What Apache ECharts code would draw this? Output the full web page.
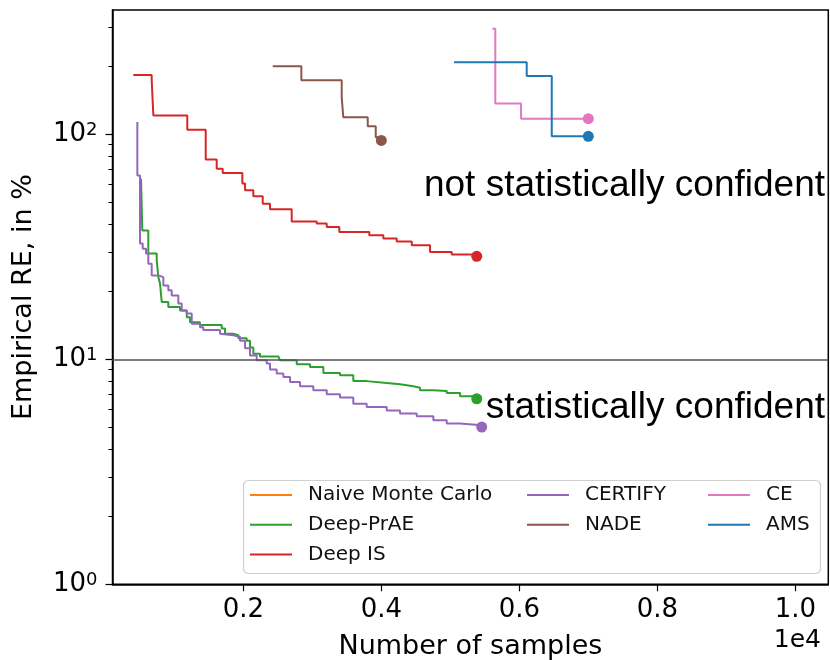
<!DOCTYPE html>
<html>
<head>
<meta charset="utf-8">
<script src="https://cdn.jsdelivr.net/npm/echarts@6/dist/echarts.min.js"></script>
<style>
  html, body { margin: 0; padding: 0; background: #fff; }
  #chart { width: 830px; height: 660px; }
</style>
</head>
<body>
<div id="chart"></div>
<script>
// ---- data (x = number of samples, y = empirical RE in %) ----
const naiveMonteCarlo = [];
const deepPrAE = [[517,63.5],[536,37.4],[623,29.5],[745,27.5],[768,23.2],[793,21.7],[817,18.0],[913,17.1],[1083,16.5],[1180,15.4],[1228,14.6],[1372,14.2],[1687,13.7],[1735,13.0],[1855,12.8],[1928,12.4],[2049,12.1],[2097,11.3],[2145,10.6],[2242,10.3],[2507,10.1],[2532,9.9],[2774,9.5],[2967,9.25],[3160,8.7],[3401,8.5],[3594,8.0],[3788,7.85],[4078,7.74],[4271,7.59],[4464,7.48],[4561,7.28],[4754,7.23],[4948,7.08],[5141,6.85],[5383,6.68]];
const deepIS = [[406,183.5],[672,174],[696,121.4],[1188,104.9],[1455,77.2],[1614,70.4],[1701,67.3],[1986,60.4],[2025,56.4],[2145,53.0],[2281,49.2],[2387,46.4],[2701,41.0],[3064,40.1],[3209,38.7],[3391,36.8],[3826,35.6],[4029,34.4],[4223,33.4],[4441,32.1],[4706,30.0],[5020,29.2],[5383,28.7]];
const certify = [[464,113.4],[464,65.7],[503,32.7],[542,31.0],[590,29.5],[623,26.6],[672,23.6],[768,23.2],[841,21.3],[913,20.3],[962,19.2],[1058,17.7],[1107,16.5],[1180,16.0],[1252,14.4],[1372,13.9],[1420,13.5],[1662,13.0],[1687,12.8],[1855,12.6],[1952,12.1],[2025,11.2],[2097,10.4],[2194,9.9],[2339,9.57],[2387,9.0],[2484,8.64],[2580,8.34],[2677,7.93],[2822,7.59],[3014,7.28],[3209,6.99],[3401,6.76],[3594,6.35],[3788,6.14],[4078,5.93],[4271,5.74],[4513,5.58],[4754,5.36],[4948,5.18],[5141,5.09],[5455,5.0]];
const nade = [[2426,201],[2841,174],[3426,146],[3449,119],[3803,108.5],[3919,97],[4000,94]];
const ce = [[5609,295],[5652,137],[6025,117.4],[7000,117.4]];
const ams = [[5054,209],[6107,181.6],[6470,98],[7000,98]];

const confidenceThreshold = 10;
const xTickValues = [2000, 4000, 6000, 8000, 10000];
const yMajorTicks = [1, 10, 100];
const yMinorTicks = [2,3,4,5,6,7,8,9,20,30,40,50,60,70,80,90,200,300];
const xRange = [104, 10478];
const yRange = [1, 357];

const FONT = 'DejaVu Sans';
const chart = echarts.init(document.getElementById('chart'), null, { renderer: 'canvas' });

function withEndMarker(pts) {
  return pts.map((p, i) => i === pts.length - 1
    ? { value: p, symbol: 'circle', symbolSize: 11 }
    : p);
}
function lineSeries(name, pts, color, extra) {
  return Object.assign({
    name: name,
    type: 'line',
    step: 'end',
    symbol: 'none',
    data: withEndMarker(pts),
    color: color,
    lineStyle: { color: color, width: 2 },
    itemStyle: { color: color },
    emphasis: { disabled: true },
    animation: false,
    z: 2
  }, extra || {});
}

const legendCommon = {
  orient: 'vertical',
  icon: 'rect',
  itemWidth: 42,
  itemHeight: 2,
  itemGap: 9.7,
  padding: 0,
  textStyle: { fontFamily: FONT, fontSize: 20, color: '#111', lineHeight: 20, padding: [0, 0, 0, 11] },
  z: 5
};

const option = {
  backgroundColor: '#fff',
  animation: false,
  grid: {
    left: 112.5, right: 1.7, top: 10, bottom: 75.7,
    show: true, borderColor: '#000', borderWidth: 1.5,
    outerBoundsMode: 'none'
  },
  xAxis: {
    type: 'value',
    min: xRange[0], max: xRange[1],
    name: 'Number of samples',
    nameLocation: 'middle',
    nameGap: 49,
    nameTextStyle: { fontFamily: FONT, fontSize: 27, color: '#000' },
    axisLine: { show: true, lineStyle: { color: '#000', width: 1.5 } },
    axisTick: { show: true, length: 7, lineStyle: { color: '#000', width: 1.2 }, customValues: xTickValues },
    axisLabel: {
      fontFamily: FONT, fontSize: 26, color: '#000', margin: 13,
      customValues: xTickValues,
      formatter: v => (v / 1e4).toFixed(1)
    },
    splitLine: { show: false }
  },
  yAxis: [{
    type: 'log',
    min: yRange[0], max: yRange[1],
    name: 'Empirical RE, in %',
    nameLocation: 'middle',
    nameGap: 75,
    nameTextStyle: { fontFamily: FONT, fontSize: 27, color: '#000' },
    axisLine: { show: true, lineStyle: { color: '#000', width: 1.5 } },
    axisTick: { show: true, length: 7, lineStyle: { color: '#000', width: 1.2 }, customValues: yMajorTicks },
    axisLabel: {
      margin: 15,
      customValues: yMajorTicks,
      formatter: v => '{b|10}{s|' + Math.round(Math.log10(v)) + '}',
      rich: {
        b: { fontFamily: FONT, fontSize: 26, color: '#000' },
        s: { fontFamily: FONT, fontSize: 18, color: '#000', verticalAlign: 'top' }
      }
    },
    splitLine: { show: false }
  }, {
    type: 'log',
    min: yRange[0], max: yRange[1],
    position: 'left',
    offset: 0,
    axisLine: { show: false },
    axisTick: { show: true, length: 4, lineStyle: { color: '#000', width: 1 }, customValues: yMinorTicks },
    axisLabel: { show: false },
    splitLine: { show: false }
  }],
  legend: [
    Object.assign({ left: 250, top: 485, data: ['Naive Monte Carlo', 'Deep-PrAE', 'Deep IS'] }, legendCommon),
    Object.assign({ left: 527, top: 485, data: ['CERTIFY', 'NADE'] }, legendCommon),
    Object.assign({ left: 708, top: 485, data: ['CE', 'AMS'] }, legendCommon)
  ],
  series: [
    lineSeries('Naive Monte Carlo', naiveMonteCarlo, '#ff7f0e'),
    lineSeries('Deep-PrAE', deepPrAE, '#2ca02c', {
      markLine: {
        silent: true, symbol: 'none', animation: false,
        label: { show: false },
        lineStyle: { color: '#555', width: 1.6, type: 'solid' },
        emphasis: { disabled: true },
        data: [{ yAxis: confidenceThreshold }]
      }
    }),
    lineSeries('Deep IS', deepIS, '#d62728'),
    lineSeries('CERTIFY', certify, '#9467bd', { z: 3 }),
    lineSeries('NADE', nade, '#8c564b'),
    lineSeries('CE', ce, '#e377c2'),
    lineSeries('AMS', ams, '#1f77b4')
  ],
  graphic: [
    { type: 'rect', z: 4, silent: true,
      shape: { x: 243.5, y: 480.5, width: 577, height: 93, r: 5 },
      style: { fill: 'rgba(255,255,255,0.85)', stroke: '#cfcfcf', lineWidth: 1.2 } },
    { type: 'text', z: 6, silent: true, x: 825, y: 186,
      style: { text: 'not statistically confident', font: '37px "Liberation Sans", Arial, sans-serif', fill: '#000', align: 'right', verticalAlign: 'middle' } },
    { type: 'text', z: 6, silent: true, x: 825, y: 408,
      style: { text: 'statistically confident', font: '37px "Liberation Sans", Arial, sans-serif', fill: '#000', align: 'right', verticalAlign: 'middle' } },
    { type: 'text', z: 6, silent: true, x: 821, y: 640,
      style: { text: '1e4', font: '25px "DejaVu Sans"', fill: '#000', align: 'right', verticalAlign: 'middle' } }
  ]
};
chart.setOption(option);
</script>
</body>
</html>
